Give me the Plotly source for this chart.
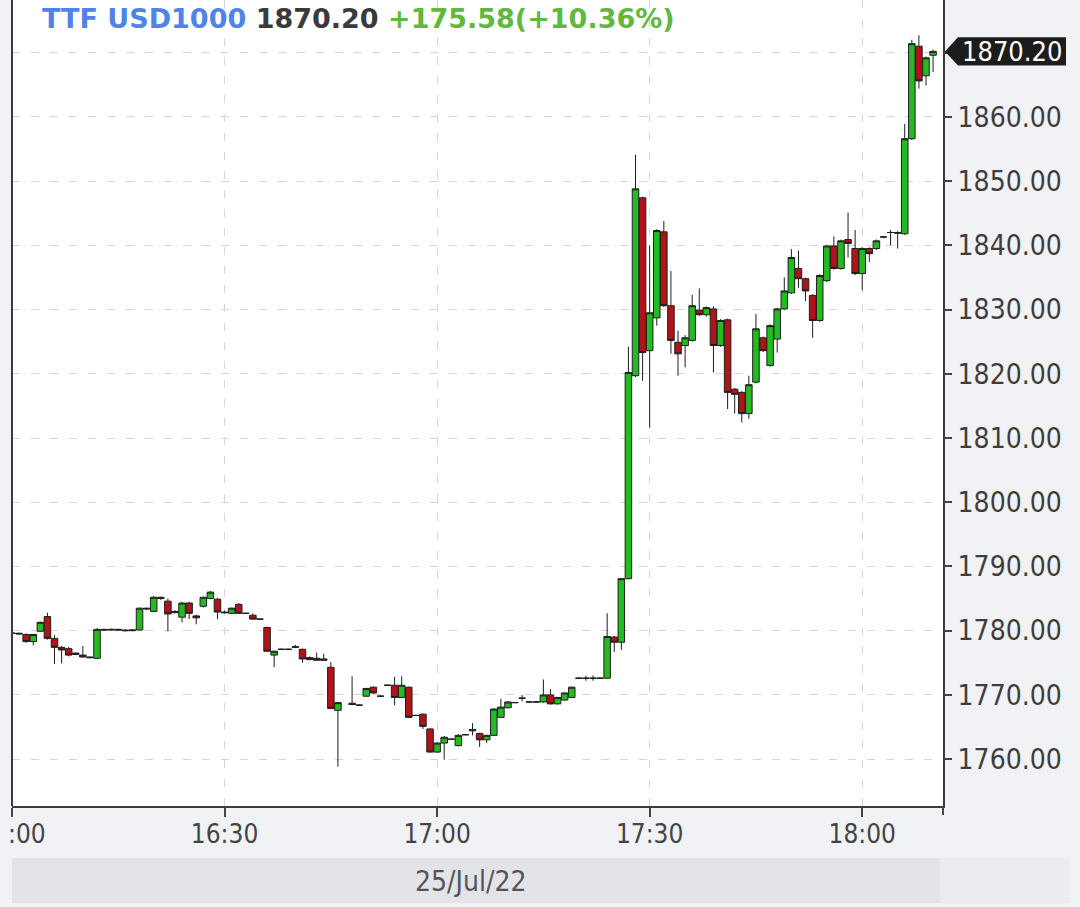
"""
TTF USD1000 intraday 1-minute candles, 25 Jul 2022 (16:00 - 18:10).
"""
import datetime as dt

import plotly.graph_objects as go

SYMBOL = "TTF USD1000"
DATE_LABEL = "25/Jul/22"
SESSION_START = dt.datetime(2022, 7, 25, 16, 0)
PREV_CLOSE = 1694.62

# minutes after 16:00 for each candle
minutes = [
    0, 1, 2, 3, 4, 5, 6, 7, 8, 9, 10, 11, 12, 13, 14, 15, 16, 17, 18, 19,
    20, 21, 22, 23, 24, 25, 26, 27, 28, 29, 30, 31, 32, 33, 34, 35, 36, 37, 38, 39,
    40, 41, 42, 43, 44, 45, 46, 48, 49, 50, 51, 52, 53, 54, 55, 56, 57, 58, 59,
    60, 61, 62, 63, 64, 65, 66, 67, 68, 69, 70, 71, 72, 73, 74, 75, 76, 77, 78, 79,
    80, 81, 82, 83, 84, 85, 86, 87, 88, 89, 90, 91, 92, 93, 94, 95, 96, 97, 98, 99,
    100, 101, 102, 103, 104, 105, 106, 107, 108, 109, 110, 111, 112, 113, 114, 115, 116, 117, 118, 119,
    120, 121, 122, 123, 124, 125, 126, 127, 128, 129, 130,
]
opens = [
    1779.6, 1779.6, 1779.4, 1778.3, 1779.9, 1782.2, 1778.8, 1777.4, 1777.2, 1776.3, 1776.2, 1775.9, 1775.7, 1780.2, 1780.1, 1780.2, 1780.1, 1780.0, 1780.1, 1783.5,
    1783.0, 1785.2, 1784.6, 1782.8, 1782.1, 1784.3, 1782.3, 1783.8, 1785.0, 1784.9, 1782.9, 1782.7, 1784.1, 1782.7, 1782.4, 1781.8, 1780.5, 1776.2, 1777.1, 1777.1,
    1777.4, 1777.1, 1775.8, 1775.7, 1775.6, 1774.3, 1767.6, 1768.7, 1768.4, 1769.8, 1771.2, 1769.8, 1771.5, 1771.5, 1769.6, 1771.2, 1766.8, 1767.0, 1764.7,
    1761.1, 1762.5, 1763.1, 1762.1, 1763.8, 1764.4, 1764.0, 1763.0, 1763.7, 1766.5, 1768.0, 1768.8, 1769.5, 1768.9, 1768.9, 1768.9, 1770.0, 1768.6, 1769.2, 1769.6,
    1772.6, 1772.6, 1772.6, 1772.6, 1772.6, 1779.0, 1778.2, 1788.1, 1819.7, 1847.4, 1823.6, 1828.7, 1842.1, 1830.6, 1824.9, 1824.4, 1825.2, 1829.9, 1829.2, 1830.1,
    1824.4, 1828.4, 1817.6, 1817.1, 1813.8, 1818.7, 1825.6, 1821.3, 1825.4, 1830.1, 1832.6, 1836.4, 1834.8, 1832.2, 1828.3, 1834.5, 1839.9, 1836.4, 1840.9, 1839.5,
    1835.6, 1839.5, 1839.5, 1841.3, 1842.0, 1842.0, 1841.8, 1856.6, 1871.0, 1866.4, 1869.6,
]
highs = [
    1779.8, 1779.7, 1779.6, 1779.5, 1781.4, 1782.8, 1779.3, 1777.6, 1777.5, 1776.6, 1777.6, 1776.0, 1780.4, 1780.3, 1780.3, 1780.3, 1780.2, 1780.2, 1783.6, 1783.6,
    1785.4, 1785.3, 1785.0, 1783.2, 1784.5, 1784.5, 1782.5, 1785.3, 1786.2, 1785.1, 1783.1, 1783.6, 1784.3, 1782.8, 1782.7, 1781.9, 1780.6, 1776.9, 1777.2, 1777.2,
    1777.8, 1777.2, 1776.0, 1776.6, 1776.4, 1775.1, 1768.9, 1772.9, 1768.5, 1771.1, 1771.3, 1769.9, 1771.6, 1772.8, 1772.9, 1771.3, 1766.9, 1767.1, 1764.8,
    1762.6, 1763.6, 1763.2, 1763.9, 1763.9, 1765.6, 1764.1, 1763.8, 1767.9, 1769.4, 1769.0, 1768.9, 1770.0, 1769.0, 1769.0, 1772.4, 1770.9, 1769.7, 1770.4, 1771.3,
    1772.7, 1773.0, 1773.0, 1772.7, 1782.7, 1779.2, 1788.2, 1824.2, 1854.1, 1847.6, 1840.0, 1842.5, 1843.8, 1836.0, 1826.7, 1826.0, 1832.3, 1833.3, 1830.5, 1830.5,
    1828.5, 1828.6, 1817.8, 1817.3, 1819.7, 1829.3, 1825.8, 1827.7, 1830.3, 1835.0, 1839.4, 1839.2, 1835.0, 1832.4, 1835.5, 1840.1, 1841.4, 1840.9, 1845.1, 1842.4,
    1839.7, 1839.7, 1840.9, 1841.4, 1842.4, 1842.2, 1858.9, 1872.0, 1872.7, 1869.4, 1870.5,
]
lows = [
    1779.4, 1779.4, 1778.1, 1777.7, 1779.8, 1778.6, 1774.8, 1774.9, 1776.0, 1776.2, 1775.8, 1775.7, 1775.6, 1780.0, 1780.0, 1780.0, 1779.9, 1779.9, 1780.0, 1783.2,
    1782.9, 1784.8, 1779.9, 1782.7, 1781.3, 1781.8, 1781.0, 1783.6, 1784.9, 1781.8, 1782.7, 1782.6, 1782.6, 1782.6, 1781.7, 1781.7, 1776.7, 1774.3, 1777.0, 1777.0,
    1777.3, 1775.0, 1775.4, 1775.3, 1775.3, 1767.8, 1758.8, 1768.4, 1768.3, 1769.7, 1770.2, 1769.7, 1771.4, 1768.4, 1769.5, 1766.4, 1766.7, 1764.7, 1761.0,
    1761.0, 1759.9, 1763.0, 1762.0, 1763.7, 1763.7, 1761.9, 1762.5, 1763.6, 1766.4, 1767.9, 1768.7, 1769.0, 1768.8, 1768.8, 1768.8, 1768.5, 1768.5, 1769.1, 1769.5,
    1772.5, 1772.2, 1772.2, 1772.5, 1772.5, 1776.7, 1777.0, 1788.0, 1819.5, 1818.9, 1811.6, 1827.5, 1830.4, 1823.1, 1819.7, 1821.0, 1825.0, 1829.0, 1828.9, 1820.2,
    1824.2, 1814.5, 1813.8, 1812.4, 1813.0, 1818.5, 1823.4, 1821.1, 1823.3, 1829.9, 1832.4, 1833.4, 1831.3, 1825.6, 1828.1, 1834.3, 1836.2, 1836.2, 1838.1, 1835.4,
    1833.0, 1837.4, 1839.3, 1841.1, 1840.0, 1839.5, 1841.6, 1856.4, 1864.4, 1864.9, 1867.0,
]
closes = [
    1779.6, 1779.5, 1778.3, 1779.4, 1781.3, 1778.8, 1777.4, 1777.0, 1776.2, 1776.5, 1775.9, 1775.8, 1780.2, 1780.1, 1780.2, 1780.1, 1780.0, 1780.1, 1783.5, 1783.4,
    1785.2, 1785.0, 1782.6, 1783.0, 1784.3, 1782.7, 1782.0, 1785.2, 1786.0, 1782.9, 1782.8, 1783.5, 1782.7, 1782.7, 1781.8, 1781.8, 1776.8, 1776.8, 1777.1, 1777.1,
    1777.5, 1775.6, 1775.5, 1775.4, 1775.4, 1767.9, 1768.8, 1768.5, 1768.4, 1771.0, 1770.3, 1769.8, 1771.5, 1769.6, 1771.5, 1766.5, 1766.8, 1765.1, 1761.1,
    1762.5, 1763.4, 1763.1, 1763.7, 1763.8, 1764.6, 1763.0, 1763.7, 1767.8, 1768.1, 1768.9, 1768.8, 1769.5, 1768.9, 1768.9, 1770.0, 1768.6, 1769.6, 1770.3, 1771.2,
    1772.6, 1772.6, 1772.6, 1772.6, 1779.1, 1778.2, 1788.1, 1820.2, 1848.8, 1823.3, 1829.5, 1842.3, 1830.6, 1825.2, 1823.1, 1825.6, 1830.6, 1829.2, 1830.3, 1824.4,
    1828.3, 1817.1, 1816.8, 1813.8, 1818.3, 1827.0, 1823.6, 1827.5, 1830.1, 1832.9, 1838.1, 1834.8, 1832.9, 1828.3, 1835.3, 1839.9, 1836.4, 1840.7, 1840.3, 1835.6,
    1839.5, 1838.7, 1840.7, 1841.3, 1842.0, 1841.9, 1856.6, 1871.4, 1865.6, 1869.2, 1870.2,
]

AXIS_FONT = "DejaVu Sans Condensed, DejaVu Sans"
PAPER_BG = "#f1f2f5"
PLOT_LEFT, PLOT_RIGHT, PLOT_BOTTOM = 12, 943, 806   # px of the plot frame
Y_LO, Y_HI = 1752.7, 1878.2
Y_STEP = 10


def px_to_paper_x(px: float) -> float:
    return (px - PLOT_LEFT) / (PLOT_RIGHT - PLOT_LEFT)


def px_to_paper_y(px: float) -> float:
    return (PLOT_BOTTOM - px) / PLOT_BOTTOM


def build_chart() -> go.Figure:
    times = [SESSION_START + dt.timedelta(minutes=m) for m in minutes]
    last = closes[-1]
    change = last - PREV_CLOSE
    pct = change / PREV_CLOSE * 100

    fig = go.Figure(
        go.Candlestick(
            x=times, open=opens, high=highs, low=lows, close=closes,
            increasing=dict(fillcolor="#22bb22", line=dict(color="#1e1e1e", width=1)),
            decreasing=dict(fillcolor="#b01418", line=dict(color="#1e1e1e", width=1)),
            whiskerwidth=0,
            hoverinfo="skip",
        )
    )

    grid = dict(showgrid=True, gridcolor="#d6d6d6", griddash="8px,11px", gridwidth=1, zeroline=False)
    fig.update_xaxes(
        type="date", automargin=False,
        range=[SESSION_START, SESSION_START + dt.timedelta(minutes=131.4)],
        tick0=SESSION_START, dtick=30 * 60 * 1000, tickformat="%H:%M",
        ticks="outside", ticklen=9, tickcolor="#444444", tickwidth=2,
        ticklabeloverflow="allow", ticklabelstandoff=-5,
        showline=True, linecolor="#3c3c3c", linewidth=2,
        tickfont=dict(family=AXIS_FONT, size=26, color="#444444"),
        rangeslider_visible=False,
        **grid,
    )
    # the tick under the last-price tag carries no label
    hidden_tick = f"{round(last / Y_STEP) * Y_STEP:.2f}"
    fig.update_yaxes(
        side="right", automargin=False,
        range=[Y_LO, Y_HI], tick0=1760, dtick=Y_STEP, tickformat=".2f",
        ticks="outside", ticklen=7, tickcolor="#444444", tickwidth=2,
        labelalias={hidden_tick: ""},
        showline=True, linecolor="#3c3c3c", linewidth=2,
        tickfont=dict(family=AXIS_FONT, size=28, color="#3e3e3e"),
        **grid,
    )

    shapes = [
        # left frame edge and the right edge's stub below the axis
        dict(type="line", xref="paper", yref="paper", x0=0, x1=0, y0=0, y1=1,
             line=dict(color="#3c3c3c", width=2)),
        dict(type="line", xref="paper", yref="paper", x0=1, x1=1, y0=px_to_paper_y(815), y1=0,
             line=dict(color="#444444", width=2)),
        # panel edge on the far left clips the first time label
        dict(type="rect", xref="paper", yref="paper", layer="above",
             x0=px_to_paper_x(0), x1=px_to_paper_x(9), y0=px_to_paper_y(856), y1=px_to_paper_y(816),
             fillcolor=PAPER_BG, line=dict(width=0)),
        # date band under the time axis
        dict(type="rect", xref="paper", yref="paper", layer="below",
             x0=0, x1=px_to_paper_x(940), y0=px_to_paper_y(903), y1=px_to_paper_y(858),
             fillcolor="#e3e4e7", line=dict(width=0)),
        dict(type="rect", xref="paper", yref="paper", layer="below",
             x0=px_to_paper_x(940), x1=px_to_paper_x(1070), y0=px_to_paper_y(903), y1=px_to_paper_y(858),
             fillcolor="#ebecef", line=dict(width=0)),
        # last price tag
        dict(type="path", xref="paper", yref="y", layer="above",
             path=(f"M {px_to_paper_x(945)},{last} L {px_to_paper_x(958)},{last + 2.2} "
                   f"L {px_to_paper_x(1066)},{last + 2.2} L {px_to_paper_x(1066)},{last - 2.2} "
                   f"L {px_to_paper_x(958)},{last - 2.2} Z"),
             fillcolor="#1c1c1c", line=dict(width=0)),
    ]

    title = (
        f"<b><span style='color:#4f84e6'>{SYMBOL}</span> "
        f"<span style='color:#3a3a3a'>{last:.2f}</span> "
        f"<span style='color:#62b83f'>{change:+.2f}({pct:+.2f}%)</span></b>"
    )
    annotations = [
        dict(text=title, xref="paper", yref="paper", x=px_to_paper_x(40), y=px_to_paper_y(19),
             xanchor="left", yanchor="middle", showarrow=False,
             font=dict(family="DejaVu Sans", size=27)),
        dict(text=f"{last:.2f}", xref="paper", yref="y", x=px_to_paper_x(1012), y=last,
             xanchor="center", yanchor="middle", showarrow=False,
             font=dict(family=AXIS_FONT, size=27, color="#ffffff")),
        dict(text=DATE_LABEL, xref="paper", yref="paper", x=px_to_paper_x(470), y=px_to_paper_y(881),
             xanchor="center", yanchor="middle", showarrow=False,
             font=dict(family=AXIS_FONT, size=28, color="#555555")),
    ]

    fig.update_layout(
        width=1080, height=907,
        margin=dict(l=PLOT_LEFT, r=1080 - PLOT_RIGHT, t=0, b=907 - PLOT_BOTTOM),
        paper_bgcolor=PAPER_BG, plot_bgcolor="#ffffff",
        showlegend=False, boxgap=0.08, boxgroupgap=0,
        shapes=shapes, annotations=annotations,
    )
    return fig


if __name__ == "__main__":
    build_chart().write_html(
        "out.html",
        config={"displayModeBar": False},
        post_script="document.body.style.margin = '0';",
    )
